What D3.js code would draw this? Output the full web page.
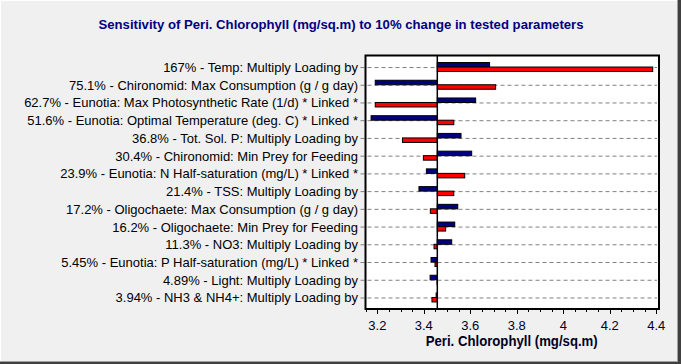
<!DOCTYPE html>
<html><head><meta charset="utf-8">
<script src="https://cdn.jsdelivr.net/npm/d3@7/dist/d3.min.js"></script>
<style>html,body{margin:0;padding:0;background:#f0f0f0;overflow:hidden}</style>
</head><body>
<script>
const titleText = "Sensitivity of Peri. Chlorophyll (mg/sq.m) to 10% change in tested parameters";
const axisTitle = "Peri. Chlorophyll (mg/sq.m)";
const categories = [
  "167% - Temp: Multiply Loading by",
  "75.1% - Chironomid: Max Consumption (g / g day)",
  "62.7% - Eunotia: Max Photosynthetic Rate (1/d) * Linked *",
  "51.6% - Eunotia: Optimal Temperature (deg. C) * Linked *",
  "36.8% - Tot. Sol. P: Multiply Loading by",
  "30.4% - Chironomid: Min Prey for Feeding",
  "23.9% - Eunotia: N Half-saturation (mg/L) * Linked *",
  "21.4% - TSS: Multiply Loading by",
  "17.2% - Oligochaete: Max Consumption (g / g day)",
  "16.2% - Oligochaete: Min Prey for Feeding",
  "11.3% - NO3: Multiply Loading by",
  "5.45% - Eunotia: P Half-saturation (mg/L) * Linked *",
  "4.89% - Light: Multiply Loading by",
  "3.94% - NH3 & NH4+: Multiply Loading by"
];
const baseline = 3.458;
const blueValues = [3.683, 3.191, 3.623, 3.173, 3.560, 3.606, 3.411, 3.379, 3.546, 3.533, 3.520, 3.431, 3.427, 3.453];
const redValues  = [4.385, 3.709, 3.191, 3.529, 3.308, 3.398, 3.576, 3.529, 3.428, 3.494, 3.444, 3.448, 3.457, 3.435];
const tickValues = [3.2, 3.4, 3.6, 3.8, 4, 4.2, 4.4];
const minorTicks = d3.range(3.15, 4.4001, 0.05);

const W = 681, H = 364;
const svg = d3.select("body").append("svg").attr("width", W).attr("height", H)
  .style("display","block").style("font-family","Arial, 'Liberation Sans', sans-serif");

svg.append("rect").attr("width", W).attr("height", H).attr("fill", "#f0f0f0");
// window frame
svg.append("line").attr("x1",0.5).attr("y1",0).attr("x2",0.5).attr("y2",H).attr("stroke","#ffffff");
svg.append("line").attr("x1",0).attr("y1",0.5).attr("x2",W).attr("y2",0.5).attr("stroke","#ffffff");
svg.append("line").attr("x1",0).attr("y1",361.5).attr("x2",W).attr("y2",361.5).attr("stroke","#a0a0a0");
svg.append("rect").attr("x",0).attr("y",362).attr("width",W).attr("height",2).attr("fill","#404040");
svg.append("line").attr("x1",677.5).attr("y1",0).attr("x2",677.5).attr("y2",362).attr("stroke","#a0a0a0");
svg.append("rect").attr("x",678).attr("y",0).attr("width",3).attr("height",H).attr("fill","#404040");

const L = 365.5, R = 659, T = 55.5, B = 309;
const x = d3.scaleLinear().domain([3.149, 4.412]).range([L, R]);
const y = d3.scalePoint().domain(categories).range([T, B]).padding(0.65);

// title
svg.append("text").attr("x", 341).attr("y", 29).attr("text-anchor","middle")
  .attr("font-size", 13.5).attr("font-weight","bold").attr("fill","#000080")
  .attr("textLength", 485).attr("lengthAdjust","spacingAndGlyphs").text(titleText);

// plot background
svg.append("rect").attr("x",L).attr("y",T).attr("width",R-L).attr("height",B-T).attr("fill","#ffffff");

// gridlines
svg.append("g").selectAll("line").data(categories).join("line")
  .attr("x1", L - 5).attr("x2", R - 2)
  .attr("y1", d => y(d) + 0.5).attr("y2", d => y(d) + 0.5)
  .attr("stroke", "#808080").attr("stroke-width", 1).attr("stroke-dasharray", "4,3");

// labels
svg.append("g").selectAll("text").data(categories).join("text")
  .attr("x", 358).attr("y", d => y(d) + 5)
  .attr("text-anchor","end").attr("font-size", 13).attr("fill","#000")
  .text(d => d);

// bars
const bh = 4.5;
const bars = svg.append("g");
bars.selectAll("rect.blue").data(categories).join("rect").attr("class","blue")
  .attr("x", (d,i) => x(Math.min(baseline, blueValues[i])))
  .attr("width", (d,i) => Math.abs(x(blueValues[i]) - x(baseline)))
  .attr("y", d => y(d) - bh).attr("height", bh)
  .attr("fill","#000080").attr("stroke","#000").attr("stroke-width",1);
bars.selectAll("rect.red").data(categories).join("rect").attr("class","red")
  .attr("x", (d,i) => x(Math.min(baseline, redValues[i])))
  .attr("width", (d,i) => Math.abs(x(redValues[i]) - x(baseline)))
  .attr("y", d => y(d)).attr("height", bh)
  .attr("fill","#ff0000").attr("stroke","#000").attr("stroke-width",1);

// baseline
svg.append("line").attr("x1", x(baseline)).attr("x2", x(baseline)).attr("y1", T).attr("y2", B)
  .attr("stroke","#000").attr("stroke-width",1.5);

// plot frame
svg.append("rect").attr("x",L).attr("y",T).attr("width",R-L).attr("height",B-T)
  .attr("fill","none").attr("stroke","#000").attr("stroke-width",2);

// x axis
const ax = svg.append("g");
ax.selectAll("line.minor").data(minorTicks).join("line").attr("class","minor")
  .attr("x1", d => Math.round(x(d)) + 0.5).attr("x2", d => Math.round(x(d)) + 0.5)
  .attr("y1", B + 1).attr("y2", B + 3).attr("stroke","#000");
ax.selectAll("line.major").data(tickValues).join("line").attr("class","major")
  .attr("x1", d => Math.round(x(d)) + 0.5).attr("x2", d => Math.round(x(d)) + 0.5)
  .attr("y1", B + 1).attr("y2", B + 5).attr("stroke","#000");
ax.selectAll("text").data(tickValues).join("text")
  .attr("x", d => x(d)).attr("y", 329.5).attr("text-anchor","middle")
  .attr("font-size", 13).attr("fill","#000020").text(d => d3.format("~g")(d));

svg.append("text").attr("x", 511.7).attr("y", 346).attr("text-anchor","middle")
  .attr("font-size", 14).attr("font-weight","bold").attr("fill","#000020")
  .attr("textLength", 172).attr("lengthAdjust","spacingAndGlyphs").text(axisTitle);
</script>
</body></html>
